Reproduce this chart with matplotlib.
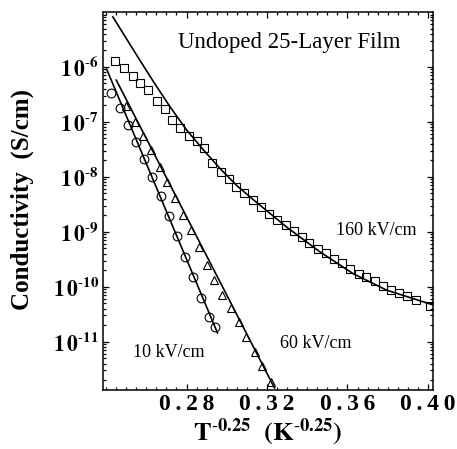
import matplotlib
matplotlib.use('Agg')
import matplotlib.pyplot as plt
import matplotlib.ticker as mticker
import numpy as np

# --- data (x = T^-0.25, values stored as log10 of conductivity) ---
x_160 = [0.2447, 0.2487, 0.2532, 0.2571, 0.2611, 0.2651, 0.2691, 0.2730, 0.2770, 0.2810,
         0.2850, 0.2889, 0.2929, 0.2969, 0.3009, 0.3047, 0.3088, 0.3130, 0.3171, 0.3209,
         0.3251, 0.3292, 0.3332, 0.3372, 0.3411, 0.3453, 0.3494, 0.3534, 0.3574, 0.3614,
         0.3655, 0.3693, 0.3736, 0.3776, 0.3814, 0.3855, 0.3895, 0.3942, 0.4008]
logs_160 = [-5.90, -6.02, -6.17, -6.30, -6.42, -6.62, -6.77, -6.97, -7.11, -7.26,
            -7.35, -7.48, -7.75, -7.91, -8.04, -8.18, -8.30, -8.42, -8.55, -8.67,
            -8.79, -8.88, -8.98, -9.09, -9.21, -9.31, -9.39, -9.50, -9.57, -9.67,
            -9.76, -9.83, -9.89, -9.99, -10.06, -10.11, -10.17, -10.24, -10.35]

x_60 = [0.2497, 0.2542, 0.2583, 0.2624, 0.2666, 0.2704, 0.2744, 0.2782, 0.2823, 0.2860,
        0.2901, 0.2939, 0.2977, 0.3019, 0.3060, 0.3097, 0.3138, 0.3176, 0.3221]
logs_60 = [-6.71, -7.00, -7.26, -7.52, -7.82, -8.10, -8.39, -8.70, -8.97, -9.28,
           -9.61, -9.88, -10.15, -10.39, -10.64, -10.91, -11.18, -11.45, -11.74]

x_10 = [0.2427, 0.2470, 0.2508, 0.2550, 0.2590, 0.2630, 0.2671, 0.2712, 0.2754, 0.2794,
        0.2831, 0.2873, 0.2911, 0.2941]
logs_10 = [-6.47, -6.74, -7.05, -7.36, -7.68, -8.00, -8.35, -8.71, -9.08, -9.45,
           -9.83, -10.20, -10.55, -10.73]

# fitted curves
fit160_x = [0.2434, 0.2553, 0.2636, 0.2719, 0.2801, 0.2884, 0.2967, 0.3050, 0.3130,
            0.3296, 0.3461, 0.3627, 0.3793, 0.4024]
fit160_log = [-5.09, -5.79, -6.27, -6.73, -7.15, -7.51, -7.85, -8.16, -8.41,
              -8.91, -9.36, -9.76, -10.06, -10.33]
fit60_x = [0.2451, 0.3237]
fit60_log = [-6.24, -11.84]
fit10_x = [0.2403, 0.2954]
fit10_log = [-6.04, -10.84]

ytick_exps = [-11, -10, -9, -8, -7, -6]
xtick_vals = [0.28, 0.32, 0.36, 0.40]

plt.rcParams['font.family'] = ['Liberation Serif', 'DejaVu Serif']
plt.rcParams['mathtext.fontset'] = 'stix'

fig = plt.figure(figsize=(4.57, 4.49), dpi=100)
ax = fig.add_axes([0.2254, 0.1314, 0.7221, 0.8419])

def pw(v):
    return 10 ** np.array(v)

mk = dict(linestyle='none', markerfacecolor='none', markeredgecolor='black',
          markeredgewidth=0.8, markersize=6.3)
ax.plot(x_160, pw(logs_160), marker='s', **mk)
ax.plot(x_60, pw(logs_60), marker='^', **mk)
ax.plot(x_10, pw(logs_10), marker='o', **mk)

ax.plot(fit160_x, pw(fit160_log), color='black', lw=1.2)
ax.plot(fit60_x, pw(fit60_log), color='black', lw=1.2)
ax.plot(fit10_x, pw(fit10_log), color='black', lw=1.2)

ax.set_yscale('log')
ax.set_xlim(0.2385, 0.4025)
ax.set_ylim(1.32e-12, 1e-5)

# letter-spaced bold tick labels, as in the original figure
ax.xaxis.set_major_locator(mticker.FixedLocator(xtick_vals))
ax.xaxis.set_major_formatter(mticker.FixedFormatter(
    ['\u2009'.join(f'{v:.2f}') for v in xtick_vals]))
ax.xaxis.set_minor_locator(mticker.MultipleLocator(0.005))

ax.yaxis.set_major_locator(mticker.FixedLocator([10.0 ** e for e in ytick_exps]))
ax.yaxis.set_major_formatter(mticker.FixedFormatter(
    [r'$\mathbf{1\,0^{\text{-}%d}}$' % (-e) for e in ytick_exps]))
ax.yaxis.set_minor_locator(mticker.LogLocator(base=10, subs=np.arange(2, 10), numticks=20))
ax.yaxis.set_minor_formatter(mticker.NullFormatter())

ax.tick_params(which='both', direction='in', top=True, right=True, width=0.9)
ax.tick_params(which='major', length=4.5)
ax.tick_params(which='minor', length=2.2)
ax.tick_params(axis='x', which='major', labelsize=17, pad=3)
ax.tick_params(axis='y', which='major', labelsize=15.5, pad=3)
for lbl in ax.get_xticklabels():
    lbl.set_fontweight('bold')
for s in ax.spines.values():
    s.set_linewidth(1.1)

ax.text(0.565, 0.918, 'Undoped 25-Layer Film', transform=ax.transAxes,
        ha='center', va='center', fontsize=16.5)
ax.text(0.829, 0.422, '160 kV/cm', transform=ax.transAxes, ha='center', va='center', fontsize=13)
ax.text(0.645, 0.124, '60 kV/cm', transform=ax.transAxes, ha='center', va='center', fontsize=13)
ax.text(0.200, 0.099, '10 kV/cm', transform=ax.transAxes, ha='center', va='center', fontsize=13)

fig.text(22 / 457, 1 - 199 / 449, 'Conductivity  (S/cm)', rotation=90, ha='center', va='center',
         fontsize=18, fontweight='bold')
fig.text(268 / 457, 1 - 432 / 449, r'$\mathbf{T^{\text{-}0.25}\ \ (K^{\text{-}0.25})}$',
         ha='center', va='center', fontsize=19)

fig.savefig('out.png', dpi=100)
